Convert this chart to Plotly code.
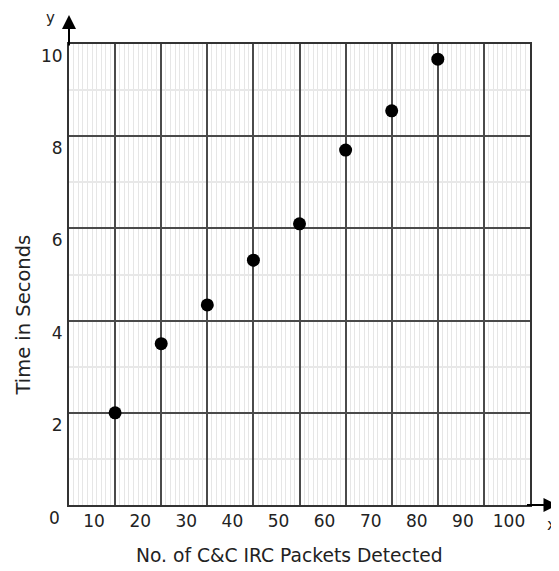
import plotly.graph_objects as go

# Data
packets = [10, 20, 30, 40, 50, 60, 70, 80]
seconds = [2.0, 3.5, 4.34, 5.31, 6.10, 7.70, 8.55, 9.67]

x_tick_vals = [10, 20, 30, 40, 50, 60, 70, 80, 90, 100]
x_tick_text = ["10", "20", "30", "40", "50", "60", "70", "80", "90", "100"]
y_tick_vals = [2, 4, 6, 8, 10]
y_tick_text = ["2", "4", "6", "8", "10"]

x_title = "No. of C&C IRC Packets Detected"
y_title = "Time in Seconds"

FONT = "DejaVu Sans"
PAGE_W, PAGE_H = 559, 571
OFF = 8  # default body margin of the page
W, H = PAGE_W - OFF, PAGE_H - OFF
# plot area in page pixels
PL, PR, PT, PB = 69, 530.5, 44, 505
L, R, T, B = PL - OFF, PAGE_W - PR, PT - OFF, PAGE_H - PB
pw = PR - PL
ph = PB - PT

def px_x(p):
    return (p - PL) / pw

def px_y(p):
    return (PB - p) / ph

fig = go.Figure()
fig.add_trace(go.Scatter(
    x=packets, y=seconds, mode="markers",
    marker=dict(color="black", size=13, symbol="circle"),
    cliponaxis=False, showlegend=False,
))

fig.update_layout(
    width=W, height=H, autosize=False,
    margin=dict(l=L, r=R, t=T, b=B, pad=0),
    paper_bgcolor="white", plot_bgcolor="white",
    font=dict(family=FONT, size=17, color="#222"),
    xaxis=dict(
        range=[0, 100], tickmode="array", tickvals=x_tick_vals, ticktext=x_tick_text,
        showgrid=True, gridcolor="#4a4a4a", gridwidth=2,
        showline=True, linecolor="#333", linewidth=2, mirror=True,
        ticks="", ticklabelshift=-21, ticklabelstandoff=0,
        zeroline=False,
        minor=dict(tickmode="linear", tick0=0, dtick=1, showgrid=True,
                   gridcolor="#e6e6e6", gridwidth=1, ticks=""),
        tickfont=dict(size=17),
    ),
    yaxis=dict(
        range=[0, 10], tickmode="array", tickvals=y_tick_vals, ticktext=y_tick_text,
        showgrid=True, gridcolor="#4a4a4a", gridwidth=2,
        showline=True, linecolor="#333", linewidth=2, mirror=True,
        ticks="", ticklabelshift=12, ticklabelstandoff=1,
        zeroline=False,
        minor=dict(tickmode="linear", tick0=0, dtick=1, showgrid=True,
                   gridcolor="#e8e8e8", gridwidth=2, ticks=""),
        tickfont=dict(size=17),
    ),
)

ann = []
# axis titles
ann.append(dict(xref="paper", yref="paper", x=px_x(290), y=px_y(555.5),
                text=x_title, showarrow=False, xanchor="center", yanchor="middle",
                font=dict(size=18.7, color="#222")))
ann.append(dict(xref="paper", yref="paper", x=px_x(22.5), y=px_y(315),
                text=y_title, showarrow=False, textangle=-90,
                xanchor="center", yanchor="middle",
                font=dict(size=19.5, color="#222")))
# origin label
ann.append(dict(xref="paper", yref="paper", x=px_x(54), y=px_y(518),
                text="0", showarrow=False, xanchor="center", yanchor="middle",
                font=dict(size=17, color="#222")))
# axis letters
ann.append(dict(xref="paper", yref="paper", x=px_x(50.5), y=px_y(8), yanchor="top",
                text="y", showarrow=False, xanchor="center", borderpad=0,
                font=dict(size=15, color="#222")))
ann.append(dict(xref="paper", yref="paper", x=px_x(552), y=px_y(524),
                text="x", showarrow=False, xanchor="center", yanchor="middle",
                font=dict(size=16, color="#222")))
# axis arrows
ann.append(dict(xref="paper", yref="paper", x=0, y=px_y(15), ax=0, ay=32,
                text="", showarrow=True, arrowhead=2, arrowsize=1.4,
                arrowwidth=2, arrowcolor="black"))
ann.append(dict(xref="paper", yref="paper", x=px_x(558), y=0, ax=-32, ay=0,
                text="", showarrow=True, arrowhead=2, arrowsize=1.4,
                arrowwidth=2, arrowcolor="black"))
fig.update_layout(annotations=ann)

fig.write_html("out.html")
